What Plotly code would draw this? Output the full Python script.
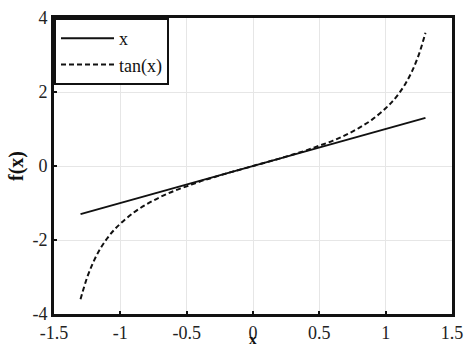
import plotly.graph_objects as go

x_vals = [-1.3, -1.25, -1.2, -1.15, -1.1, -1.05, -1.0, -0.9, -0.8, -0.7, -0.6, -0.5, -0.4, -0.3, -0.2, -0.1, 0.0,
          0.1, 0.2, 0.3, 0.4, 0.5, 0.6, 0.7, 0.8, 0.9, 1.0, 1.05, 1.1, 1.15, 1.2, 1.25, 1.3]
tan_vals = [-3.60, -3.01, -2.57, -2.23, -1.96, -1.74, -1.56, -1.26, -1.03, -0.84, -0.68, -0.55, -0.42, -0.31, -0.20, -0.10, 0.0,
            0.10, 0.20, 0.31, 0.42, 0.55, 0.68, 0.84, 1.03, 1.26, 1.56, 1.74, 1.96, 2.23, 2.57, 3.01, 3.60]
x_line_x = [-1.3, 1.3]
x_line_y = [-1.3, 1.3]

x_ticks = [-1.5, -1, -0.5, 0, 0.5, 1, 1.5]
x_tick_labels = ["-1.5", "-1", "-0.5", "0", "0.5", "1", "1.5"]
y_ticks = [-4, -2, 0, 2, 4]
y_tick_labels = ["-4", "-2", "0", "2", "4"]

font = "Liberation Serif, Times New Roman, DejaVu Serif, serif"

fig = go.Figure()
fig.add_trace(go.Scatter(x=x_line_x, y=x_line_y, mode="lines", name="x",
                         line=dict(color="#111111", width=2)))
fig.add_trace(go.Scatter(x=x_vals, y=tan_vals, mode="lines", name="tan(x)",
                         line=dict(color="#111111", width=2, dash="5px,3px", shape="spline")))

axis_common = dict(showline=True, linecolor="#111111", linewidth=3, mirror=True,
                   ticks="inside", ticklen=3, tickwidth=2, tickcolor="#111111",
                   showgrid=True, gridcolor="#e6e6e6", gridwidth=1, zeroline=False,
                   automargin=False,
                   tickfont=dict(family=font, size=18, color="#222222"))

fig.update_layout(
    width=465, height=346,
    margin=dict(l=54, r=13, t=18, b=32),
    paper_bgcolor="white", plot_bgcolor="white",
    xaxis=dict(range=[-1.5, 1.5], tickvals=x_ticks, ticktext=x_tick_labels, **axis_common),
    yaxis=dict(range=[-4, 4], tickvals=y_ticks, ticktext=y_tick_labels,
               title=dict(text="<b>f(x)</b>", font=dict(family=font, size=20, color="#111111"), standoff=4),
               **axis_common),
    legend=dict(x=0, y=1, xanchor="left", yanchor="top", bgcolor="white",
                bordercolor="#111111", borderwidth=2,
                font=dict(family=font, size=18, color="#111111"),
                tracegroupgap=0, itemwidth=53),
    showlegend=True,
    annotations=[dict(text="<b>x</b>", xref="paper", yref="paper", x=0.5, y=-0.085,
                      xanchor="center", yanchor="middle", showarrow=False,
                      font=dict(family=font, size=15, color="#111111"))],
)

fig.write_html("out.html", config={"displayModeBar": False},
               post_script="document.body.style.margin='0';document.body.style.padding='0';")
